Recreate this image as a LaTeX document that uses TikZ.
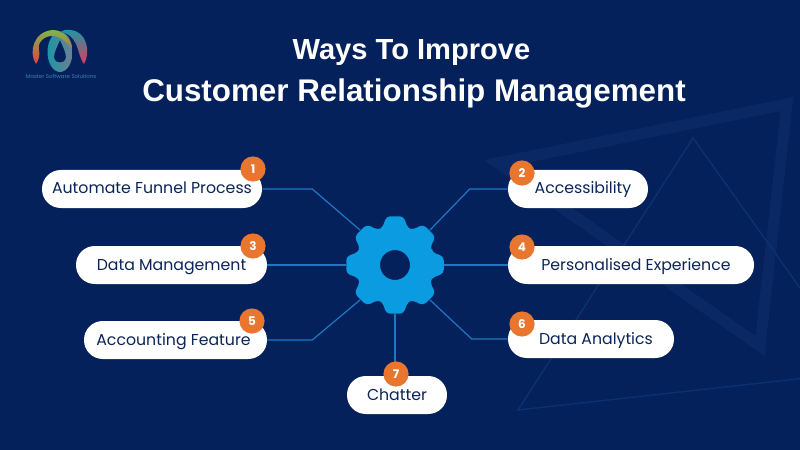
\documentclass[tikz,border=0pt]{standalone}
\usepackage{fontspec}
\setmainfont{Poppins}
\newfontfamily\titlefont{Liberation Sans}
\usetikzlibrary{positioning,calc}
\definecolor{navybg}{HTML}{04215C}
\definecolor{navyband}{HTML}{0A2863}
\definecolor{navyline}{HTML}{0C3170}
\definecolor{gearblue}{HTML}{0A9BE0}
\definecolor{linkblue}{HTML}{1E78C0}
\definecolor{badgeorange}{HTML}{E8762F}
\definecolor{pilltext}{HTML}{0C2558}
\definecolor{logotext}{HTML}{3E7FB5}
\definecolor{logogreen}{HTML}{7DB64C}
\definecolor{logoamber}{HTML}{F2A32C}
\definecolor{logored}{HTML}{E8403C}
\definecolor{logoteal}{HTML}{1C96A6}
\definecolor{logoslate}{HTML}{6F8093}
\definecolor{logopink}{HTML}{E33A5C}
\newcommand{\pillshift}{\hspace*{2.5mm}}

\begin{document}
\begin{tikzpicture}[
  x=0.25mm, y=-0.25mm,
  pill/.style  ={fill=white, rounded corners=4.7mm, minimum height=9.5mm, inner sep=0pt,
                 text=pilltext, font=\fontsize{11.2}{13}\selectfont,
                 text height=3.0mm, text depth=0.5mm},
  badge/.style ={circle, fill=badgeorange, text=white, minimum size=6.3mm, inner sep=0pt,
                 font=\fontsize{8.5}{10}\bfseries\selectfont},
  link/.style  ={draw=linkblue, line width=0.3mm, line join=round},
  title/.style ={text=white, inner sep=0pt, font=\titlefont\fontsize{22.3}{27}\bfseries\selectfont}
]
\useasboundingbox (0,0) rectangle (800,450);
\fill[navybg] (0,0) rectangle (800,450);

% --- faint triangles behind everything ---
\begin{scope}
  \clip (0,0) rectangle (800,450);
  \draw[navyband, line width=2.8mm, miter limit=10] (498,163) -- (787,104) -- (760,346) -- cycle;
  \draw[navyline, line width=0.35mm] (693,138) -- (860,372) -- (518,410) -- cycle;
\end{scope}

% --- logo ---
\shade[left color=logoteal, right color=logoslate, even odd rule]
  (60,52) ellipse [x radius=12.5, y radius=20]
  (60,40) .. controls (63,47) and (66,52) .. (66,58) .. controls (66,64) and (54,64) .. (54,58) .. controls (54,52) and (57,47) .. (60,40);
\shade[top color=logogreen, middle color=logoamber, bottom color=logored]
  (36,64) .. controls (28,52) and (34,31) .. (53,30) .. controls (63,30) and (70,38) .. (72,48)
  .. controls (66,42) and (60,36) .. (52,36) .. controls (43,36) and (37,44) .. (39,50)
  .. controls (40,55) and (39,60) .. (36,64) -- cycle;
\shade[top color=logoteal, middle color=logoamber, bottom color=logopink]
  (84,64) .. controls (91,52) and (87,31) .. (70,30) .. controls (66,29.5) and (63,30) .. (60,32)
  .. controls (69,33) and (73,38) .. (76,44) .. controls (79,50) and (79,57) .. (84,64) -- cycle;
\node[text=logotext, inner sep=0pt, font=\fontsize{3.9}{5}\selectfont] (logotxt) at (61,76) {Master Software Solutions};

% --- heading ---
\node[title, font=\titlefont\fontsize{20.7}{27}\bfseries\selectfont] (headtop) at (411.5,53) {Ways To Improve};
\node[title]                                                         (headbot) at (414,93) {Customer Relationship Management};

% --- left column ---
\node[pill, minimum width=55mm]    (auto)   at (152,189) {Automate Funnel Process};
\node[pill, minimum width=47.75mm] (datam)  at (171.5,265) {Data Management};
\node[pill, minimum width=45.75mm] (acct)   at (175.5,340) {Accounting Feature\hspace*{1mm}};

% --- right column ---
\node[pill, minimum width=35mm]    (access) at (578,189) {\pillshift Accessibility};
\node[pill, minimum width=61.5mm]  (perso)  at (631,265) {\pillshift Personalised Experience};
\node[pill, minimum width=41.5mm]  (datan)  at (591,339) {\pillshift Data Analytics};

% --- bottom ---
\node[pill, minimum width=25mm]    (chat)   at (397,395) {Chatter};

% --- connectors, gear goes on top of their ends ---
\node[circle, minimum size=24.5mm, inner sep=0pt] (gear) at (395,265) {};
\draw[link] (auto.east)   -- ++(50,0)  -- (gear.135);
\draw[link] (access.west) -- ++(-38,0) -- (gear.45);
\draw[link] (datam.east)  -- (gear.west);
\draw[link] (perso.west)  -- (gear.east);
\draw[link] (acct.east)   -- ++(45,0)  -- (gear.225);
\draw[link] (datan.west)  -- ++(-36,0) -- (gear.315);
\draw[link] (gear.south |- chat.north) -- (gear.south);

\fill[gearblue, rounded corners=1mm, even odd rule]
  (gear.center) ++(-19:39)
  \foreach \a in {0,45,...,315} {
    -- ($(gear.center)+(\a-19:39)$) -- ($(gear.center)+(\a-10:49.5)$)
    -- ($(gear.center)+(\a+10:49.5)$) -- ($(gear.center)+(\a+19:39)$)
  } -- cycle
  (gear.center) circle [radius=15];

% --- numbers ---
\node[badge] (n1) at (253,169) {1};
\node[badge] (n2) at (522,173) {2};
\node[badge] (n3) at (253,246) {3};
\node[badge] (n4) at (522,247) {4};
\node[badge] (n5) at (252,321) {5};
\node[badge] (n6) at (522,324) {6};
\node[badge] (n7) at (396,374) {7};

\end{tikzpicture}
\end{document}
